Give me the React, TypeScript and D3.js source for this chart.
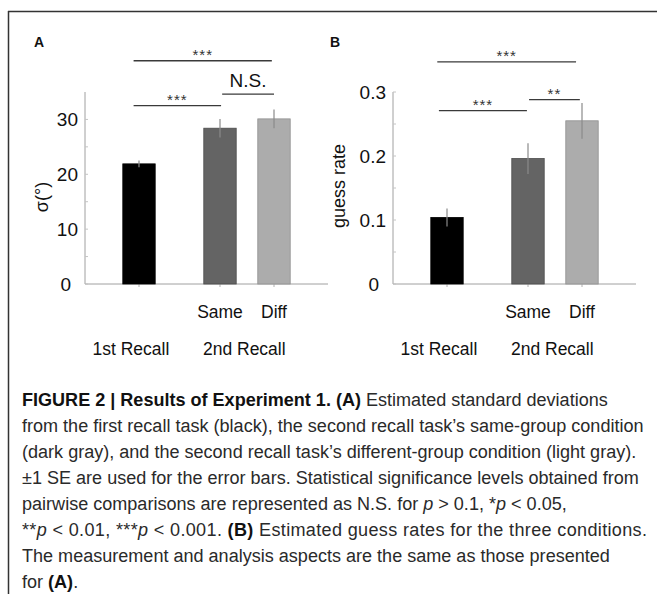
import { useEffect, useRef } from "react";
import * as d3 from "d3";

// bar positions on the x domain [0, 4.5]: 1st recall, 2nd recall same, 2nd recall diff
const conditions = ["1st", "Same", "Diff"];
const barPos = [1, 2.5, 3.5];
const barColors = ["#000000", "#646464", "#acacac"];
const barEdges = ["#000000", "#4a4a4a", "#8f8f8f"];

const sigmaMean = [21.9, 28.4, 30.1];
const sigmaSE = [0.6, 1.7, 1.7];
const sigmaTicks = [0, 10, 20, 30];
const sigmaMinor = [5, 15, 25];

const guessMean = [0.104, 0.196, 0.255];
const guessSE = [0.014, 0.024, 0.028];
const guessTicks = [0, 0.1, 0.2, 0.3];
const guessMinor = [0.05, 0.15, 0.25];

const underLabels = [
  { text: "Same", at: 2.5 },
  { text: "Diff", at: 3.5 },
];
const groupLabels = [
  { text: "1st Recall", at: 0.85 },
  { text: "2nd Recall", at: 2.95 },
];

// significance brackets: x extent in bar units, height in data units
const sigmaSig = [
  { x1: 0.9, x2: 3.46, y: 40.7, label: "***" },
  { x1: 0.9, x2: 2.52, y: 32.5, label: "***" },
  { x1: 2.54, x2: 3.5, y: 34.6, label: "N.S." },
];
const guessSig = [
  { x1: 0.82, x2: 3.39, y: 0.347, label: "***" },
  { x1: 0.85, x2: 2.48, y: 0.271, label: "***" },
  { x1: 2.52, x2: 3.46, y: 0.288, label: "**" },
];

type Seg = { t: string; b?: boolean; i?: boolean };
const captionLines: Seg[][] = [
  [{ t: "FIGURE 2 | Results of Experiment 1. (A)", b: true }, { t: " Estimated standard deviations" }],
  [{ t: "from the first recall task (black), the second recall task’s same-group condition" }],
  [{ t: "(dark gray), and the second recall task’s different-group condition (light gray)." }],
  [{ t: "±1 SE are used for the error bars. Statistical significance levels obtained from" }],
  [{ t: "pairwise comparisons are represented as N.S. for " }, { t: "p", i: true }, { t: " > 0.1, *" }, { t: "p", i: true }, { t: " < 0.05," }],
  [{ t: "**" }, { t: "p", i: true }, { t: " < 0.01, ***" }, { t: "p", i: true }, { t: " < 0.001. " }, { t: "(B)", b: true }, { t: " Estimated guess rates for the three conditions." }],
  [{ t: "The measurement and analysis aspects are the same as those presented" }],
  [{ t: "for " }, { t: "(A)", b: true }, { t: "." }],
];

const FONT = "'Liberation Sans', Arial, Helvetica, sans-serif";

type Panel = {
  letter: string;
  left: number;
  means: number[];
  ses: number[];
  yMax: number;
  ticks: number[];
  minor: number[];
  fmt: (d: number) => string;
  yLabel: string;
  yLabelX: number;
  yLabelY: number;
  sig: { x1: number; x2: number; y: number; label: string }[];
};

const panels: Panel[] = [
  {
    letter: "A", left: 85, means: sigmaMean, ses: sigmaSE, yMax: 35,
    ticks: sigmaTicks, minor: sigmaMinor, fmt: d => String(d),
    yLabel: "σ(°)", yLabelX: 48, yLabelY: 197, sig: sigmaSig,
  },
  {
    letter: "B", left: 393, means: guessMean, ses: guessSE, yMax: 0.3,
    ticks: guessTicks, minor: guessMinor, fmt: d => (d === 0 ? "0" : d.toFixed(1)),
    yLabel: "guess rate", yLabelX: 345, yLabelY: 186, sig: guessSig,
  },
];

export default function App() {
  const svgRef = useRef<SVGSVGElement>(null);

  useEffect(() => {
    if (!svgRef.current) return;
    const svg = d3.select(svgRef.current);
    svg.selectAll("*").remove();

    // frame
    svg.append("line").attr("x1", 8).attr("x2", 657).attr("y1", 11.5).attr("y2", 11.5)
      .attr("stroke", "#333").attr("stroke-width", 1.5);
    svg.append("line").attr("x1", 8.5).attr("x2", 8.5).attr("y1", 11).attr("y2", 594)
      .attr("stroke", "#333").attr("stroke-width", 1.5);

    const zeroY = 284;
    const topY = 92;
    const axisLen = 243;

    panels.forEach(p => {
      const x = d3.scaleLinear().domain([0, 4.5]).range([p.left, p.left + axisLen]);
      const y = d3.scaleLinear().domain([0, p.yMax]).range([zeroY, topY]);
      const g = svg.append("g").attr("font-family", FONT);

      g.append("text").attr("x", p.letter === "A" ? 34 : 330).attr("y", 47)
        .attr("font-weight", "bold").attr("font-size", 14).attr("fill", "#111")
        .text(p.letter);

      // axes
      g.append("line").attr("x1", p.left).attr("x2", p.left)
        .attr("y1", y(p.yMax)).attr("y2", zeroY).attr("stroke", "#a0a0a0");
      g.append("line").attr("x1", p.left).attr("x2", p.left + axisLen)
        .attr("y1", zeroY).attr("y2", zeroY).attr("stroke", "#a0a0a0");

      g.selectAll(".ytick").data([...p.ticks, ...p.minor]).enter().append("line")
        .attr("x1", p.left).attr("x2", p.left + 3)
        .attr("y1", d => y(d)).attr("y2", d => y(d))
        .attr("stroke", "#c4c4c4");
      g.selectAll(".xtick").data(barPos).enter().append("line")
        .attr("x1", d => x(d)).attr("x2", d => x(d))
        .attr("y1", zeroY).attr("y2", zeroY + 3)
        .attr("stroke", "#b0b0b0");

      g.selectAll(".ylab").data(p.ticks).enter().append("text")
        .attr("x", d => (d === 0 ? p.left - 14 : p.left - 7))
        .attr("y", d => y(d) + 7)
        .attr("text-anchor", "end").attr("font-size", 19).attr("fill", "#111")
        .text(d => p.fmt(d));

      g.append("text")
        .attr("transform", `translate(${p.yLabelX},${p.yLabelY}) rotate(-90)`)
        .attr("text-anchor", "middle").attr("font-size", 18).attr("fill", "#111")
        .text(p.yLabel);

      // bars
      g.selectAll(".bar").data(p.means).enter().append("rect")
        .attr("x", (_, i) => x(barPos[i] - 0.3))
        .attr("width", (_, i) => x(barPos[i] + 0.3) - x(barPos[i] - 0.3))
        .attr("y", d => y(d))
        .attr("height", d => zeroY - y(d))
        .attr("fill", (_, i) => barColors[i])
        .attr("stroke", (_, i) => barEdges[i])
        .attr("stroke-width", 0.8);

      // error bars
      g.selectAll(".err").data(p.means).enter().append("line")
        .attr("x1", (_, i) => x(barPos[i])).attr("x2", (_, i) => x(barPos[i]))
        .attr("y1", (d, i) => y(d - p.ses[i])).attr("y2", (d, i) => y(d + p.ses[i]))
        .attr("stroke", "#8a8a8a").attr("stroke-width", 1.2);

      // category labels
      g.selectAll(".under").data(underLabels).enter().append("text")
        .attr("x", d => x(d.at)).attr("y", 318)
        .attr("text-anchor", "middle").attr("font-size", 17.5).attr("fill", "#111")
        .text(d => d.text);
      g.selectAll(".group").data(groupLabels).enter().append("text")
        .attr("x", d => x(d.at)).attr("y", 355)
        .attr("text-anchor", "middle").attr("font-size", 17.5).attr("fill", "#111")
        .text(d => d.text);

      // significance brackets
      g.selectAll(".sig").data(p.sig).enter().append("line")
        .attr("x1", d => x(d.x1)).attr("x2", d => x(d.x2))
        .attr("y1", d => y(d.y)).attr("y2", d => y(d.y))
        .attr("stroke", "#3a3a3a").attr("stroke-width", 1.3);
      g.selectAll(".sigt").data(p.sig).enter().append("text")
        .attr("x", d => (x(d.x1) + x(d.x2)) / 2)
        .attr("y", d => y(d.y) - (d.label === "N.S." ? 7 : 1))
        .attr("text-anchor", "middle")
        .attr("font-size", d => (d.label === "N.S." ? 19 : 15))
        .attr("letter-spacing", d => (d.label === "N.S." ? 0 : 1))
        .attr("fill", d => (d.label === "N.S." ? "#111" : "#333"))
        .text(d => d.label);
    });

    // caption
    const cap = svg.append("g").attr("font-family", FONT).attr("fill", "#2a2a2a");
    const texts = captionLines.map((segs, li) => {
      const t = cap.append("text").attr("x", 22).attr("y", 406 + li * 26).attr("font-size", 16);
      segs.forEach(s => {
        t.append("tspan")
          .attr("font-weight", s.b ? "bold" : null)
          .attr("font-style", s.i ? "italic" : null)
          .attr("fill", s.b ? "#111" : null)
          .text(s.t);
      });
      return t;
    });
    // scale caption font so the second line spans the same width as in the figure
    const w = (texts[1].node() as SVGTextElement).getComputedTextLength();
    const size = 16 * 622 / w;
    texts.forEach(t => t.attr("font-size", size));
    // the line with the p-value operators runs a little wider in the figure
    texts[5].attr("textLength", 625).attr("lengthAdjust", "spacing");
  }, []);

  return (
    <svg ref={svgRef} width={657} height={594}
      style={{ position: "absolute", left: 0, top: 0, background: "#fff" }} />
  );
}
